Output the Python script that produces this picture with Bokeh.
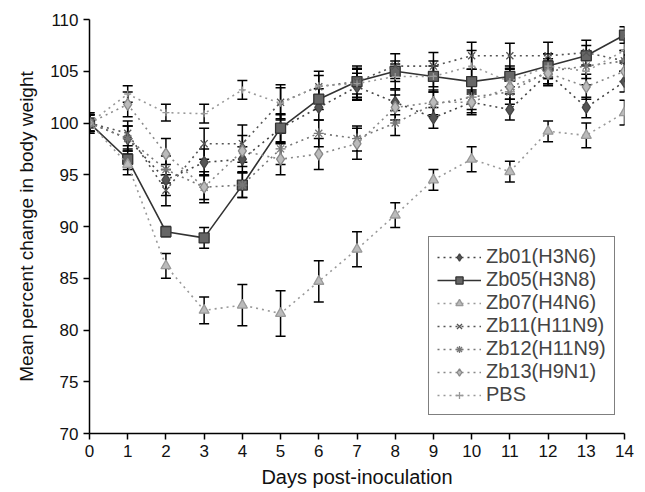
from bokeh.plotting import figure
from bokeh.models import Range1d, FixedTicker, Whisker, ColumnDataSource, Legend
from bokeh.embed import file_html
from bokeh.resources import INLINE

days = list(range(15))

zb01 = [100, 98.5, 94.5, 96.2, 96.5, 99.5, 101.5, 103.5, 102.0, 100.5, 102.0, 101.3, 104.8, 101.5, 104.0]
zb01_err = [1.0, 1.2, 1.5, 1.3, 1.2, 1.4, 1.2, 1.3, 1.2, 1.0, 1.0, 1.0, 1.0, 1.0, 1.0]
zb05 = [100, 96.5, 89.5, 88.9, 94.0, 99.5, 102.3, 104.0, 105.0, 104.5, 104.0, 104.5, 105.5, 106.5, 108.5]
zb05_err = [1.0, 1.0, 0.5, 1.0, 1.2, 1.3, 1.0, 1.2, 1.0, 1.0, 1.2, 1.0, 1.2, 1.0, 0.8]
zb07 = [100, 96.0, 86.2, 81.9, 82.4, 81.6, 84.7, 87.8, 91.1, 94.5, 96.5, 95.3, 99.2, 98.8, 101.0]
zb07_err = [0.8, 1.0, 1.2, 1.3, 2.0, 2.2, 2.0, 1.7, 1.2, 1.0, 1.2, 1.0, 1.0, 1.2, 1.2]
zb11 = [100, 99.0, 93.5, 98.0, 98.0, 102.0, 103.5, 104.0, 105.5, 105.5, 106.5, 106.5, 106.5, 106.8, 106.0]
zb11_err = [0.8, 1.2, 1.5, 1.5, 1.8, 1.7, 1.5, 1.5, 1.2, 1.3, 1.3, 1.2, 1.3, 1.2, 1.0]
zb12 = [100, 98.5, 95.5, 93.8, 94.0, 97.5, 99.0, 98.5, 100.0, 101.8, 102.5, 103.0, 105.0, 105.5, 106.0]
zb12_err = [0.8, 1.2, 1.3, 1.2, 1.2, 1.5, 1.3, 1.2, 1.2, 1.2, 1.2, 1.2, 1.2, 1.2, 1.0]
zb13 = [100, 101.8, 97.0, 93.8, 97.3, 96.5, 97.0, 98.0, 101.5, 102.0, 102.0, 103.5, 104.8, 103.5, 105.0]
zb13_err = [0.8, 1.2, 1.5, 1.5, 1.5, 1.5, 1.5, 1.5, 1.2, 1.2, 1.2, 1.2, 1.2, 1.2, 1.0]
pbs = [100, 102.8, 101.0, 100.9, 103.2, 101.9, 103.6, 103.8, 104.5, 104.5, 105.5, 104.0, 105.5, 105.0, 107.0]
pbs_err = [0.8, 0.8, 0.8, 0.9, 0.9, 1.5, 1.0, 1.5, 1.2, 1.5, 1.5, 1.2, 1.2, 1.3, 1.2]

labels = ["Zb01(H3N6)", "Zb05(H3N8)", "Zb07(H4N6)", "Zb11(H11N9)", "Zb12(H11N9)", "Zb13(H9N1)", "PBS"]
x_ticks = list(range(15))
y_ticks = [70, 75, 80, 85, 90, 95, 100, 105, 110]

series = [
    (zb01, zb01_err, "diamond", "#555555", "#444444", "dotted", 12),
    (zb05, zb05_err, "square", "#666666", "#333333", "solid", 10),
    (zb07, zb07_err, "triangle", "#bbbbbb", "#999999", "dotted", 10),
    (zb11, zb11_err, "x", "#333333", "#555555", "dotted", 10),
    (zb12, zb12_err, "asterisk", "#777777", "#777777", "dotted", 10),
    (zb13, zb13_err, "diamond", "#bbbbbb", "#888888", "dotted", 12),
    (pbs, pbs_err, "cross", "#999999", "#999999", "dotted", 7),
]

p = figure(frame_width=535, frame_height=414, output_backend="svg", toolbar_location=None,
           x_range=Range1d(0, 14), y_range=Range1d(70, 110),
           min_border_left=89, min_border_top=19, min_border_right=13, min_border_bottom=51)
p.outline_line_color = None
p.xgrid.visible = False
p.ygrid.visible = False
p.background_fill_color = "white"
p.border_fill_color = "white"

legend_items = []
for (vals, errs, marker, fill, linec, dash, size), lab in zip(series, labels):
    src = ColumnDataSource(dict(x=days, y=vals,
                                lo=[v - e for v, e in zip(vals, errs)],
                                hi=[v + e for v, e in zip(vals, errs)]))
    w = Whisker(base="x", lower="lo", upper="hi", source=src, line_color="black", line_width=1.5)
    for h in (w.upper_head, w.lower_head):
        h.size = 10
        h.line_color = "black"
        h.line_width = 1.5
    p.add_layout(w)
    r1 = p.line("x", "y", source=src, line_color=linec, line_width=1.6, line_dash=dash)
    r2 = p.scatter("x", "y", source=src, marker=marker, size=size, fill_color=fill,
                   line_color=linec, line_width=1.3)
    legend_items.append((lab, [r1, r2]))

legend = Legend(items=legend_items, location=(339, 18))
legend.label_text_font = "Liberation Sans"
legend.label_text_font_size = "20px"
legend.label_height = 18
legend.glyph_height = 18
legend.glyph_width = 44
legend.label_standoff = 5
legend.spacing = 0
legend.padding = 8
legend.margin = 0
legend.border_line_color = "black"
legend.border_line_width = 1.5
legend.background_fill_alpha = 1.0
p.add_layout(legend)

p.xaxis.ticker = FixedTicker(ticks=x_ticks)
p.yaxis.ticker = FixedTicker(ticks=y_ticks)
for ax in (p.xaxis, p.yaxis):
    ax.axis_line_color = "black"
    ax.axis_line_width = 1.5
    ax.major_tick_line_color = "black"
    ax.major_tick_line_width = 1.5
    ax.major_tick_in = 0
    ax.major_tick_out = 6
    ax.minor_tick_line_color = None
    ax.major_label_text_font = "Liberation Sans"
    ax.major_label_text_font_size = "17px"
    ax.major_label_text_color = "#111111"
    ax.axis_label_text_font = "Liberation Sans"
    ax.axis_label_text_font_style = "normal"
    ax.axis_label_text_color = "#111111"
p.xaxis.axis_label = "Days post-inoculation"
p.yaxis.axis_label = "Mean percent change in body weight"
p.xaxis.axis_label_text_font_size = "20px"
p.yaxis.axis_label_text_font_size = "19px"
p.xaxis.axis_label_standoff = 6
p.yaxis.axis_label_standoff = 10

open("out.html", "w").write(file_html(p, INLINE))
